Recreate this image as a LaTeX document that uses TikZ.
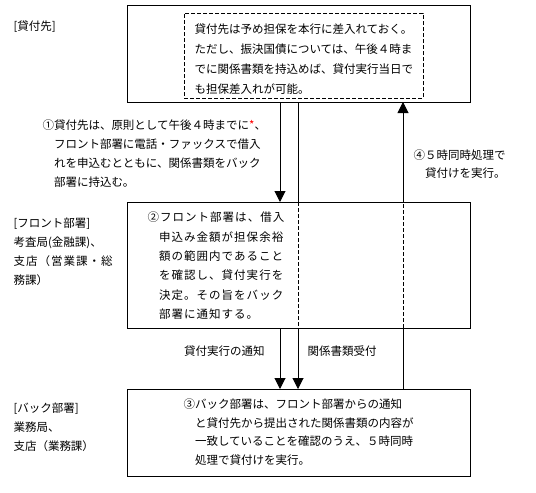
\documentclass[tikz,border=0pt]{standalone}
\usepackage{fontspec}
\setmainfont{Noto Sans CJK JP}
\newfontfamily\widefont[LetterSpace=9]{Noto Sans CJK JP}
\usetikzlibrary{arrows.meta}

\begin{document}
\begin{tikzpicture}[x=1pt,y=-1pt,line width=1pt,
    box/.style={draw,anchor=north west,inner sep=0pt,outer sep=0pt},
    txt/.style={anchor=north west,inner sep=0pt,align=left,
      font=\fontsize{11.5}{#1}\selectfont},
    txt/.default=19,
    wide/.style={font=\fontsize{11.5}{19.4}\widefont},
    dashline/.style={dash pattern=on 4pt off 2pt},
    flow/.style={-{Triangle[width=11pt,length=11pt]}}]

  \useasboundingbox (0,0) rectangle (536,493);

  \node[box,minimum width=343pt,minimum height=97pt] (lender) at (127,5) {};
  \node[box,dashline,minimum width=239pt,minimum height=85pt] (terms) at (184,13) {};
  \node[box,minimum width=343pt,minimum height=126pt] (front) at (127,202) {};
  \node[box,minimum width=343pt,minimum height=87pt] (back) at (127,389) {};

  \coordinate (c1) at (280,0);
  \coordinate (c2) at (298,0);
  \coordinate (c4) at (403,0);

  \draw[flow] (lender.south -| c1) -- (front.north -| c1);
  \draw[flow] (front.south -| c1) -- (back.north -| c1);
  \draw (lender.south -| c2) -- (front.north -| c2);
  \draw[dashline] (front.north -| c2) -- (front.south -| c2);
  \draw[flow] (front.south -| c2) -- (back.north -| c2);
  \draw (back.north -| c4) -- (front.south -| c4);
  \draw[dashline] (front.south -| c4) -- (front.north -| c4);
  \draw[flow] (front.north -| c4) -- (lender.south -| c4);

  \node[txt=20] (termstext) at (194,23.5) {貸付先は予め担保を本行に差入れておく。\\ただし、振決国債については、午後４時ま\\でに関係書類を持込めば、貸付実行当日で\\も担保差入れが可能。};

  \node[txt] (lenderlbl) at (13,20.5) {[貸付先]};
  \node[txt] (frontlbl) at (13,217.5) {[フロント部署]\\考査局(金融課)、\\{\widefont 支店（営業課・総}\\務課）};
  \node[txt] (backlbl) at (13,402.5) {[バック部署]\\業務局、\\支店（業務課）};

  \node[txt] (step1) at (42,119.5) {①貸付先は、原則として午後４時までに\textcolor{red}{*}、\\\phantom{①}フロント部署に電話・ファックスで借入\\\phantom{①}れを申込むとともに、関係書類をバック\\\phantom{①}部署に持込む。};
  \node[txt,wide] (step2) at (147,211.5) {②フロント部署は、借入\\\phantom{②}申込み金額が担保余裕\\\phantom{②}額の範囲内であること\\\phantom{②}を確認し、貸付実行を\\\phantom{②}決定。その旨をバック\\\phantom{②}部署に通知する。};
  \node[txt=18.5] (step3) at (183,398.5) {③バック部署は、フロント部署からの通知\\\phantom{③}と貸付先から提出された関係書類の内容が\\\phantom{③}一致していることを確認のうえ、５時同時\\\phantom{③}処理で貸付けを実行。};
  \node[txt=18] (step4) at (413,149.5) {④５時同時処理で\\\phantom{④}貸付けを実行。};

  \node[txt,anchor=north east] (notice) at (265,345.5) {貸付実行の通知};
  \node[txt] (receipt) at (307,345.5) {関係書類受付};
\end{tikzpicture}
\end{document}
